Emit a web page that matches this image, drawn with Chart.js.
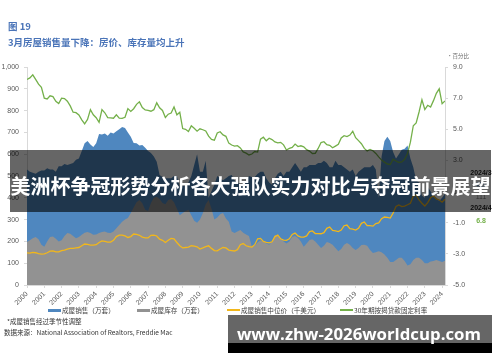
<!DOCTYPE html>
<html lang="zh-CN">
<head>
<meta charset="utf-8">
<title>图 19</title>
<script src="https://cdn.jsdelivr.net/npm/chart.js@4.4.1/dist/chart.umd.min.js"></script>
<style>
  body { margin: 0; background: #fff; }
  #page { position: relative; width: 500px; height: 362px; overflow: hidden;
          font-family: "Noto Sans CJK SC", "Liberation Sans", sans-serif; }
  #page canvas { position: absolute; left: 0; top: 0; }
  .t { position: absolute; white-space: nowrap; line-height: 1; }
  .title { color: #4a74b8; font-weight: bold; font-size: 9.5px; left: 8px; }
  .note { color: #333; font-size: 6.5px; }
  .lg { position: absolute; top: 306px; height: 8px; display: flex; align-items: center;
        font-size: 6.6px; color: #404040; white-space: nowrap; }
  .lg i { display: inline-block; width: 13px; margin-right: 1px; }
  .side { position: absolute; width: 40px; left: 461px; text-align: center; line-height: 1;
          font-family: "Liberation Sans", sans-serif; font-size: 7px; }
</style>
</head>
<body>
<div id="page">
  <canvas id="houseChart" width="500" height="362"></canvas>

  <div class="t title" style="top:22px">图 19</div>
  <div class="t title" style="top:38px">3月房屋销售量下降：房价、库存量均上升</div>
  <div class="t" style="left:447px; top:54px; font-size:5.5px; color:#666">•百分比</div>

  <div id="legend"></div>
  <div class="t note" style="left:7px; top:318px">*成屋销售经过季节性调整</div>
  <div class="t note" style="left:4px; top:329px">数据来源：National Association of Realtors, Freddie Mac</div>

  <div id="sideNotes"></div>

  <div style="position:absolute; left:10px; top:150px; width:481px; height:62px; background:rgba(0,0,0,0.6)"></div>
  <div class="t" style="left:10px; top:176px; width:481px; text-align:center; color:#fff; font-weight:bold; font-size:20px">美洲杯争冠形势分析各大强队实力对比与夺冠前景展望</div>

  <div style="position:absolute; left:228px; top:315px; width:264px; height:28px; background:rgba(0,0,0,0.6)"></div>
  <div style="position:absolute; left:228px; top:343px; width:264px; height:10px; background:#000"></div>
  <div class="t" style="left:237px; top:326px; color:#fff; font-weight:bold; font-size:16.8px; font-family:'Open Sans', sans-serif">www.zhw-2026worldcup.com</div>
</div>

<script>
// 2000年1月起，每两个月一个点（1、3、5、7、9、11月），至2024年3月
const startYear = 2000;
const pointsPerYear = 6;

// 成屋销售（万套，季调年化）
const sales = [
  530, 520, 515, 510, 520, 525,
  525, 535, 530, 530, 520, 545,
  545, 555, 550, 555, 560, 575,
  580, 615, 650, 660, 645, 633,
  650, 693, 690, 695, 685, 700,
  695, 705, 715, 725, 720, 700,
  680, 651, 650, 640, 642, 630,
  615, 605, 590, 565, 505, 495,
  490, 490, 490, 500, 500, 450,
  455, 455, 470, 500, 550, 600,
  520, 520, 570, 400, 430, 460,
  500, 490, 480, 490, 500, 505,
  480, 470, 460, 465, 475, 500,
  495, 495, 510, 520, 520, 490,
  470, 460, 490, 510, 520, 500,
  520, 520, 540, 560, 540, 520,
  540, 540, 550, 550, 550, 560,
  560, 570, 560, 540, 540, 570,
  550, 550, 540, 530, 520, 530,
  500, 520, 530, 540, 540, 540,
  550, 530, 400, 590, 660, 680,
  660, 610, 580, 600, 620, 625,
  640, 580, 540, 480, 470, 410,
  400, 450, 430, 410, 400, 385,
  400, 419
];

// 成屋库存（万套）
const inventory = [
  197, 205, 215, 220, 210, 185,
  175, 200, 220, 222, 212, 200,
  205, 225, 238, 235, 225, 215,
  220, 230, 240, 243, 238, 230,
  232, 238, 243, 245, 240, 238,
  245, 260, 275, 290, 300, 307,
  330, 355, 380, 390, 375, 345,
  340, 376, 400, 405, 395, 376,
  370, 390, 395, 380, 350, 320,
  330, 340, 345, 320, 295, 285,
  300, 330, 370, 390, 350, 300,
  310, 325, 330, 305, 290, 245,
  238, 245, 252, 240, 232, 225,
  175, 180, 195, 205, 200, 190,
  185, 200, 229, 225, 215, 200,
  190, 200, 220, 225, 216, 200,
  175, 190, 206, 210, 200, 185,
  170, 180, 197, 193, 185, 170,
  155, 165, 185, 193, 185, 170,
  160, 170, 183, 185, 180, 160,
  147, 150, 155, 150, 140, 125,
  106, 105, 115, 125, 125, 110,
  90, 95, 115, 125, 125, 115,
  100, 100, 108, 110, 115, 110,
  106, 111
];

// 成屋销售中位价（千美元）
const medianPrice = [
  147, 146, 150, 148, 144, 142,
  143, 148, 155, 156, 152, 152,
  158, 160, 165, 168, 168, 170,
  172, 180, 188, 186, 183, 183,
  185, 195, 202, 200, 197, 197,
  205, 222, 229, 229, 225, 218,
  222, 234, 232, 228, 220, 216,
  216, 228, 229, 225, 210, 205,
  195, 205, 214, 212, 195, 180,
  170, 172, 174, 180, 178, 175,
  165, 170, 176, 180, 168, 158,
  157, 165, 172, 170, 160, 158,
  156, 162, 185, 190, 180, 176,
  174, 185, 212, 214, 200, 196,
  193, 198, 222, 229, 212, 206,
  205, 212, 232, 238, 225, 220,
  220, 225, 245, 248, 236, 236,
  235, 240, 260, 266, 250, 248,
  245, 252, 272, 275, 258, 256,
  252, 260, 283, 289, 272, 272,
  270, 282, 285, 304, 312, 310,
  307, 330, 360, 367, 360, 362,
  368, 375, 408, 413, 390, 375,
  362, 378, 400, 408, 395, 390,
  380, 393
];

// 30年期按揭贷款固定利率（%）
const mortgageRate = [
  8.2, 8.3, 8.5, 8.2, 7.9, 7.7,
  7.0, 6.95, 7.15, 7.1, 6.8, 6.65,
  7.0, 6.97, 6.8, 6.5, 6.1, 6.07,
  5.92, 5.61, 5.35, 5.63, 6.26, 5.93,
  5.74, 5.45, 6.27, 6.06, 5.75, 5.73,
  5.71, 5.93, 5.72, 5.70, 5.77, 6.33,
  6.15, 6.32, 6.60, 6.76, 6.40, 6.24,
  6.22, 6.16, 6.26, 6.70, 6.38, 6.21,
  5.76, 5.97, 6.04, 6.43, 5.93, 6.09,
  5.05, 5.00, 4.86, 5.22, 5.06, 4.88,
  5.03, 4.97, 4.89, 4.56, 4.35, 4.30,
  4.76, 4.84, 4.64, 4.55, 4.11, 3.99,
  3.92, 3.95, 3.80, 3.55, 3.47, 3.35,
  3.41, 3.57, 3.54, 4.37, 4.49, 4.26,
  4.43, 4.34, 4.19, 4.13, 4.16, 4.00,
  3.67, 3.77, 3.84, 4.05, 3.89, 3.94,
  3.87, 3.69, 3.60, 3.44, 3.46, 3.77,
  4.15, 4.20, 4.01, 3.97, 3.81, 3.92,
  4.03, 4.44, 4.59, 4.53, 4.63, 4.87,
  4.46, 4.27, 4.07, 3.77, 3.61, 3.70,
  3.62, 3.45, 3.23, 3.02, 2.89, 2.77,
  2.74, 3.08, 2.96, 2.87, 2.90, 3.07,
  3.45, 4.17, 5.23, 5.41, 6.11, 6.90,
  6.27, 6.54, 6.43, 6.84, 7.31, 7.60,
  6.64, 6.82
];

const seriesNames = ['成屋销售（万套）', '成屋库存（万套）', '成屋销售中位价（千美元）', '30年期按揭贷款固定利率'];
const seriesColors = ['#4f87bf', '#929292', '#f2b71b', '#74b04a'];

const axisColor = '#d9d9d9';
const tickColor = '#595959';
const tickFont = { family: '"Liberation Sans", sans-serif', size: 7 };

const xs = sales.map((_, i) => startYear + i / pointsPerYear);
const lastX = xs[xs.length - 1];
const toPoints = arr => arr.map((v, i) => ({ x: xs[i], y: v }));

const datasets = [
  { label: seriesNames[0], data: toPoints(sales), yAxisID: 'y', order: 4,
    fill: 'origin', backgroundColor: seriesColors[0], borderColor: seriesColors[0], borderWidth: 0 },
  { label: seriesNames[1], data: toPoints(inventory), yAxisID: 'y', order: 3,
    fill: 'origin', backgroundColor: seriesColors[1], borderColor: seriesColors[1], borderWidth: 0 },
  { label: seriesNames[2], data: toPoints(medianPrice), yAxisID: 'y', order: 2,
    fill: false, borderColor: seriesColors[2], borderWidth: 1.3 },
  { label: seriesNames[3], data: toPoints(mortgageRate), yAxisID: 'y2', order: 1,
    fill: false, borderColor: seriesColors[3], borderWidth: 1.3 }
];

new Chart(document.getElementById('houseChart'), {
  type: 'line',
  data: { datasets },
  options: {
    responsive: false,
    animation: false,
    events: [],
    layout: { padding: { left: 0, right: 0, top: 67, bottom: 0 } },
    elements: { point: { radius: 0 }, line: { tension: 0 } },
    plugins: { legend: { display: false }, tooltip: { enabled: false } },
    scales: {
      x: {
        type: 'linear',
        min: startYear,
        max: lastX,
        grid: { drawOnChartArea: false, color: axisColor, tickLength: 3 },
        border: { color: axisColor },
        ticks: { autoSkip: false, minRotation: 45, maxRotation: 45, padding: 2,
                 color: tickColor, font: tickFont, callback: v => String(v) },
        // 每年一个刻度：2000 … 2024
        afterBuildTicks: s => {
          const yearTicks = [];
          for (let y = startYear; y <= Math.floor(lastX); y++) yearTicks.push({ value: y });
          s.ticks = yearTicks;
        },
        afterFit: s => { s.height = 77; }
      },
      y: {
        position: 'left',
        min: 0, max: 1000,
        grid: { drawOnChartArea: false, color: axisColor, tickLength: 3 },
        border: { color: axisColor },
        ticks: { stepSize: 100, padding: 5, color: tickColor, font: tickFont },
        afterFit: s => { s.width = 27; }
      },
      y2: {
        position: 'right',
        min: -5, max: 9,
        grid: { drawOnChartArea: false, color: axisColor, tickLength: 3 },
        border: { color: axisColor },
        ticks: { stepSize: 2, padding: 5, color: tickColor, font: tickFont, callback: v => v.toFixed(1) },
        afterFit: s => { s.width = 55; }
      }
    }
  }
});

// 图例
const legendLeft = [48, 137, 227, 340];
const legendEl = document.getElementById('legend');
seriesNames.forEach((name, i) => {
  const item = document.createElement('div');
  item.className = 'lg';
  item.style.left = legendLeft[i] + 'px';
  const h = i < 2 ? 3 : 1.5;
  item.innerHTML = `<i style="height:${h}px;background:${seriesColors[i]}"></i>${name}`;
  legendEl.appendChild(item);
});

// 右侧最新值标注
const sideNotes = [
  { text: '2024/3', top: 169, color: '#222', bold: true },
  { text: String(sales[sales.length - 1]), top: 181, color: seriesColors[0], bold: false },
  { text: String(inventory[inventory.length - 1]), top: 193, color: '#7f7f7f', bold: false },
  { text: '2024/4', top: 204, color: '#222', bold: true },
  { text: mortgageRate[mortgageRate.length - 1].toFixed(1), top: 217, color: seriesColors[3], bold: true }
];
const sideEl = document.getElementById('sideNotes');
sideNotes.forEach(n => {
  const d = document.createElement('div');
  d.className = 'side';
  d.style.top = n.top + 'px';
  d.style.color = n.color;
  d.style.fontWeight = n.bold ? 'bold' : 'normal';
  d.textContent = n.text;
  sideEl.appendChild(d);
});
</script>
</body>
</html>
